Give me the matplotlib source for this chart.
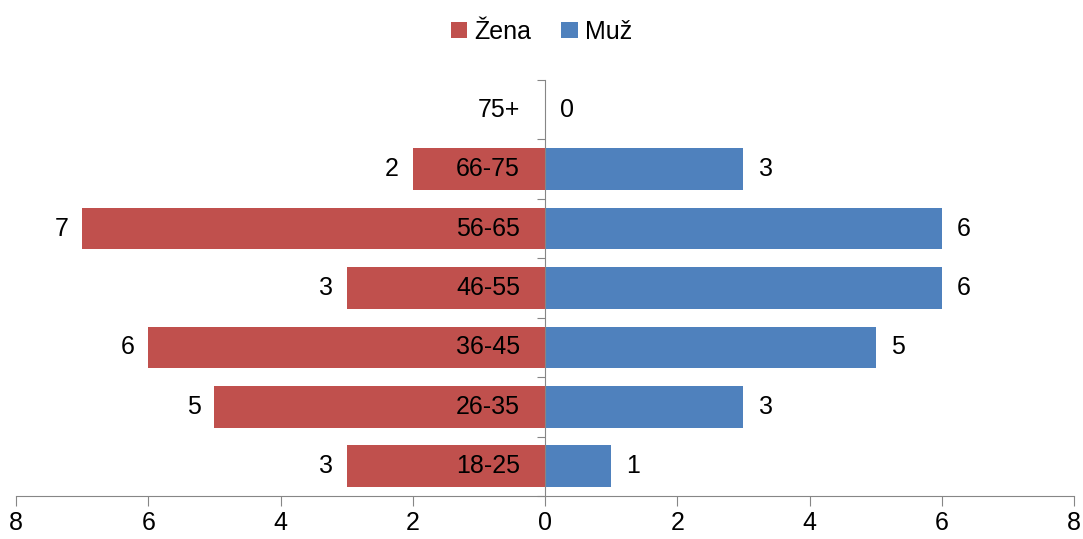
import numpy as np
import matplotlib.pyplot as plt

plt.rcParams['font.family'] = ['Liberation Sans', 'DejaVu Sans']

# age groups, bottom to top
groups = ["18-25", "26-35", "36-45", "46-55", "56-65", "66-75", "75+"]
zena = [3, 5, 6, 3, 7, 2, 0]
muz = [1, 3, 5, 6, 6, 3, 0]

red = "#C0504D"
blue = "#4F81BD"
gray = "#868686"
fs = 18

fig = plt.figure(figsize=(10.83, 5.39), dpi=100)
ax = fig.add_axes([0.0148, 0.0798, 0.9769, 0.7718])

y = np.arange(len(groups))
ax.barh(y, [-v for v in zena], height=0.7, color=red, label="Žena")
ax.barh(y, muz, height=0.7, color=blue, label="Muž")

for yi, g, w, m in zip(y, groups, zena, muz):
    ax.annotate(g, (0, yi), xytext=(-18, 0), textcoords="offset points",
                ha="right", va="center", fontsize=fs)
    if w > 0:
        ax.annotate(str(w), (-w, yi), xytext=(-10, 0), textcoords="offset points",
                    ha="right", va="center", fontsize=fs)
    ax.annotate(str(m), (m, yi), xytext=(11, 0), textcoords="offset points",
                ha="left", va="center", fontsize=fs)

ax.set_xlim(-8, 8)
ax.set_ylim(-0.5, 6.5)
ax.set_xticks(np.arange(-8, 9, 2))
ax.set_xticklabels([str(abs(t)) for t in range(-8, 9, 2)], fontsize=fs)
ax.set_yticks(np.arange(-0.5, 7, 1))
ax.set_yticklabels([])

ax.spines["left"].set_position(("data", 0))
for s in ["top", "right"]:
    ax.spines[s].set_visible(False)
for s in ["left", "bottom"]:
    ax.spines[s].set_color(gray)
ax.tick_params(axis="x", colors=gray, length=7, pad=4, labelcolor="black")
ax.tick_params(axis="y", colors=gray, length=6)

fig.legend(loc="upper center", bbox_to_anchor=(0.5, 1.005), ncol=2, frameon=False,
           fontsize=fs, handlelength=0.65, handleheight=0.65, handletextpad=0.3,
           columnspacing=1.2)

fig.savefig("out.png", dpi=100)
